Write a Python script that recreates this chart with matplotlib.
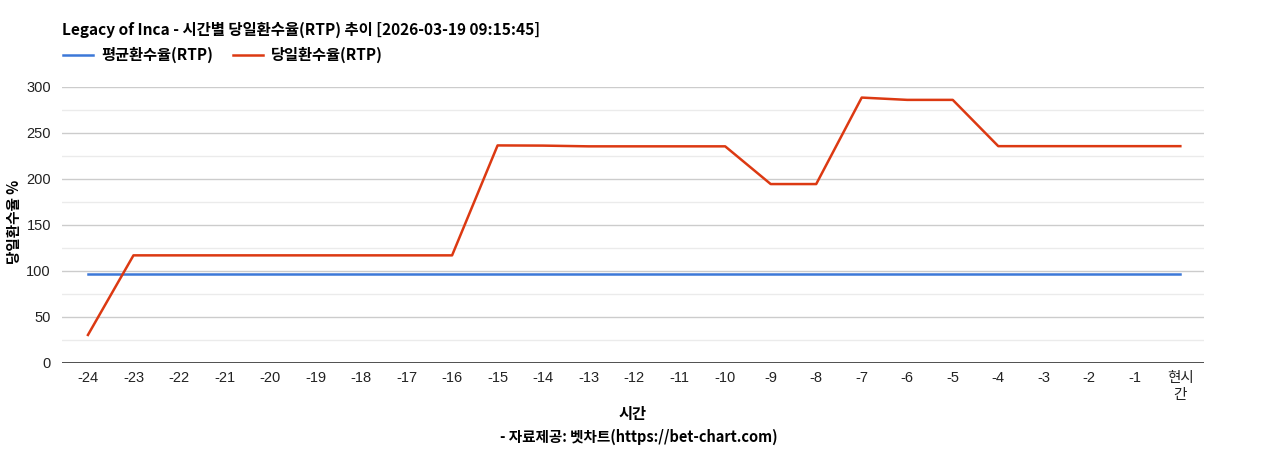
import matplotlib.pyplot as plt

# 시간 축
labels = ['-24', '-23', '-22', '-21', '-20', '-19', '-18', '-17', '-16', '-15', '-14', '-13',
          '-12', '-11', '-10', '-9', '-8', '-7', '-6', '-5', '-4', '-3', '-2', '-1', '현시\n간']
avg_rtp = [96.7] * 25
day_rtp = [30.5, 117, 117, 117, 117, 117, 117, 117, 117, 236.5, 236.3, 235.5,
           235.5, 235.5, 235.5, 194.5, 194.5, 288.5, 286, 286, 235.7, 235.7, 235.7, 235.7, 235.7]

kr = ['Noto Sans CJK KR', 'DejaVu Sans']
plt.rcParams['font.family'] = ['Liberation Sans', 'Noto Sans CJK KR', 'DejaVu Sans']

fig = plt.figure(figsize=(12.68, 4.5), dpi=100)
ax = fig.add_axes([62/1268, 1-363/450, (1204-62)/1268, 276/450])

x = list(range(len(labels)))
ax.plot(x, avg_rtp, color='#3c78d8', lw=1.8, label='평균환수율(RTP)')
ax.plot(x, day_rtp, color='#dc3912', lw=1.8, label='당일환수율(RTP)')

ax.set_xlim(-0.57, len(labels) - 1 + 0.52)
ax.set_ylim(0, 300)
ax.set_yticks([0, 50, 100, 150, 200, 250, 300])
ax.set_yticks([25, 75, 125, 175, 225, 275], minor=True)
ax.grid(True, which='major', axis='y', color='#cccccc', lw=1)
ax.grid(True, which='minor', axis='y', color='#ebebeb', lw=1)
ax.set_axisbelow(True)
ax.axhline(0, color='#333333', lw=1.2, zorder=3)
ax.set_xticks(x)
ax.set_xticklabels(labels, family=['Liberation Sans', 'Noto Sans CJK KR'])
ax.tick_params(axis='both', which='both', length=0, labelsize=10.5, colors='#222222')
ax.tick_params(axis='x', pad=6)
ax.tick_params(axis='y', pad=8)
for s in ax.spines.values():
    s.set_visible(False)

fig.text(14/1268, 1-222/450, '당일환수율 %', family=kr, fontweight='bold', fontsize=10.5,
         rotation=90, ha='center', va='center')

fig.text(62/1268, 1-30/450, 'Legacy of Inca - 시간별 당일환수율(RTP) 추이 [2026-03-19 09:15:45]',
         family=kr, fontweight='bold', fontsize=11.1, va='center')
fig.legend(loc='center left', bbox_to_anchor=(49/1268, 1-55/450), ncol=2, frameon=False,
           prop={'family': kr, 'weight': 'bold', 'size': 11}, handlelength=2.0,
           handletextpad=0.5, columnspacing=1.3)
fig.text(633/1268, 1-414/450, '시간', family=kr, fontweight='bold', fontsize=11, ha='center', va='center')
fig.text(639/1268, 1-437/450, '- 자료제공: 벳차트(https://bet-chart.com)', family=kr,
         fontweight='bold', fontsize=10.5, ha='center', va='center')

fig.savefig('out.png', dpi=100)
